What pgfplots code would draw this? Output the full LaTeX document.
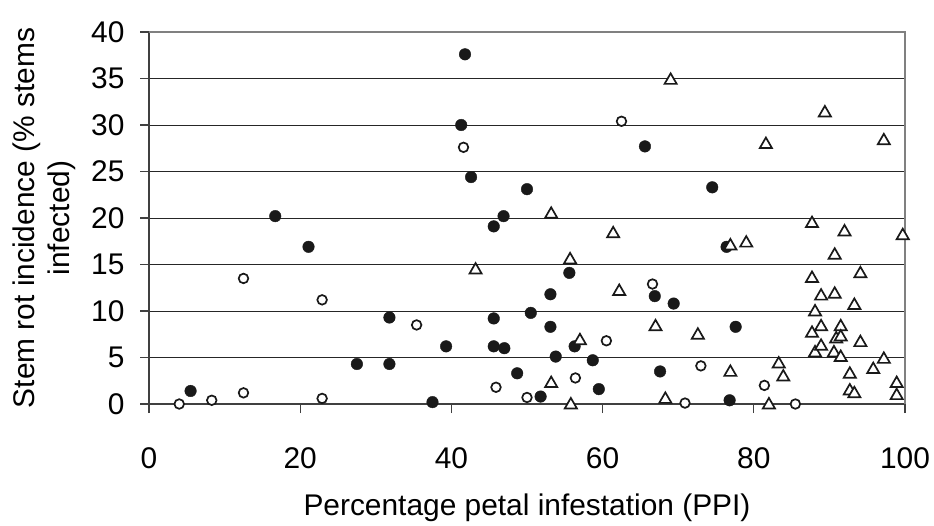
\documentclass[border=0pt]{standalone}
\usepackage{fontspec}
\setmainfont{Liberation Sans}
\usepackage{pgfplots}
\pgfplotsset{compat=1.18}

\begin{document}
\begin{tikzpicture}
\begin{axis}[
  name=main,
  scale only axis, width=756bp, height=372bp,
  xmin=0, xmax=100, ymin=0, ymax=40,
  xtick={0,20,...,100}, ytick={0,5,...,40},
  axis x line=bottom, axis y line=left,
  axis line style={-, black!75, line width=1.2bp},
  ymajorgrids, grid style={black!85, line width=0.9bp},
  tick align=outside, major tick length=9bp,
  tick style={black!75, line width=1.2bp},
  font=\fontsize{30}{35}\selectfont,
  /pgf/number format/assume math mode=true,
  xticklabel style={yshift=-31bp},
  yticklabel style={xshift=-12bp},
  xlabel={Percentage petal infestation (PPI)},
  xlabel style={at={(axis description cs:0.5,0)}, anchor=center, yshift=-104bp},
  ylabel={Stem rot incidence (\% stems\\infected)},
  ylabel style={at={(axis description cs:-0.138,0.5)}, anchor=center, align=center},
  clip=false,
]
% filled circles
\addplot[only marks, mark=*, mark size=5.8bp, mark options={draw=black!90, fill=black!90}] coordinates {
  (5.5,1.4)(16.7,20.2)(21.1,16.9)(27.5,4.3)(31.8,4.3)(31.8,9.3)
  (37.5,0.2)(39.3,6.2)(41.3,30.0)(41.8,37.6)(42.6,24.4)(45.6,19.1)
  (45.6,9.2)(45.6,6.2)(46.9,20.2)(47.0,6.0)(48.7,3.3)(50.0,23.1)
  (50.5,9.8)(51.8,0.8)(53.1,11.8)(53.1,8.3)(53.8,5.1)(55.6,14.1)
  (56.3,6.2)(58.7,4.7)(59.5,1.6)(65.6,27.7)(66.9,11.6)(67.6,3.5)
  (69.4,10.8)(74.5,23.3)(76.4,16.9)(76.8,0.4)(77.6,8.3)
};
% open circles
\addplot[only marks, mark=*, mark size=4.8bp, mark options={draw=black!90, fill=white, line width=1.7bp}] coordinates {
  (4.0,0.0)(8.3,0.4)(12.5,1.2)(12.5,13.5)(22.9,11.2)(22.9,0.6)
  (35.4,8.5)(41.6,27.6)(45.9,1.8)(50.0,0.7)(56.4,2.8)(60.5,6.8)
  (62.5,30.4)(66.6,12.9)(70.9,0.1)(73.0,4.1)(81.4,2.0)(85.5,0.0)
};
% open triangles
\addplot[only marks, mark=triangle*, mark size=7bp, mark options={draw=black!90, fill=white, line width=1.7bp}] coordinates {
  (43.2,14.4)(53.2,20.4)(53.2,2.2)(55.7,15.5)(55.8,-0.1)(57.0,6.8)
  (61.4,18.3)(62.2,12.1)(67.0,8.3)(68.3,0.5)(69.0,34.8)(72.6,7.4)
  (76.9,17.0)(76.9,3.4)(79.0,17.3)(81.6,27.9)(82.0,-0.1)(83.3,4.3)
  (83.9,2.9)(87.7,19.4)(87.7,13.5)(87.7,7.6)(88.1,9.9)(88.1,5.5)
  (88.9,11.6)(88.9,8.3)(88.9,6.2)(89.4,31.3)(90.7,16.0)(90.7,11.8)
  (90.9,7.0)(90.6,5.5)(91.5,8.3)(91.5,7.2)(91.5,5.0)(92.0,18.5)
  (92.7,3.2)(92.7,1.4)(93.3,1.1)(93.3,10.6)(94.1,14.0)(94.1,6.6)
  (95.8,3.7)(97.2,4.8)(97.2,28.3)(98.9,2.2)(98.9,0.9)(99.7,18.1)
};
\draw[gray, line width=1.2bp] (axis cs:0,40) -- (axis cs:100,40) -- (axis cs:100,0);
\end{axis}
\pgfresetboundingbox
\path[use as bounding box] ([xshift=-149bp,yshift=-122bp]main.south west) rectangle ([xshift=29bp,yshift=32bp]main.north east);
\end{tikzpicture}
\end{document}
